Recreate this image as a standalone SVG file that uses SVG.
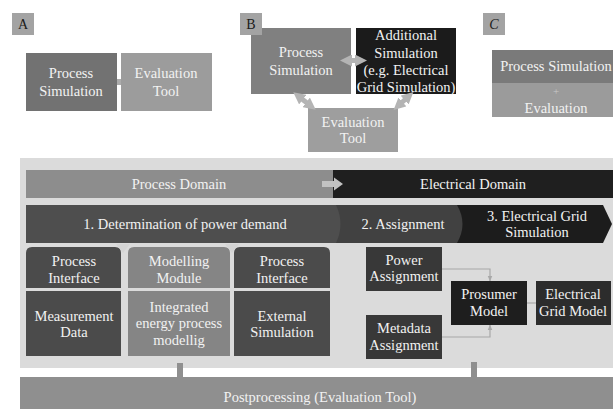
<svg xmlns="http://www.w3.org/2000/svg" width="613" height="409" viewBox="0 0 613 409">
<defs>
<style>
text{font-family:"Liberation Serif","Times New Roman",serif;font-size:14.5px;fill:#f2f2f2;text-anchor:middle}
.lbl{fill:#1a1a1a;font-size:14px}
.lblbox{fill:#a3a3a3}
.conn{stroke:#a8a8a8;stroke-width:1.2;fill:none}
.thick{stroke:#b4b4b4;stroke-width:5;fill:none}
</style>
<marker id="ah" viewBox="0 0 10 10" refX="5" refY="5" markerWidth="2.4" markerHeight="2.4" orient="auto-start-reverse">
<path d="M0,0 L10,5 L0,10 Z" fill="#b4b4b4"/>
</marker>
<marker id="sa" viewBox="0 0 10 10" refX="9" refY="5" markerWidth="5" markerHeight="5" orient="auto">
<path d="M0,1 L10,5 L0,9 Z" fill="#a8a8a8"/>
</marker>
</defs>
<rect width="613" height="409" fill="#ffffff"/>

<!-- Panel A -->
<g id="labelA"><rect class="lblbox" x="12" y="13" width="22" height="22"/><text class="lbl" x="23" y="29">A</text></g>
<g id="connectors-A"><rect x="110" y="79" width="13" height="6" fill="#ababab"/></g>
<g id="A-process"><rect x="26" y="53" width="91" height="58" fill="#727272"/><text x="71" y="78">Process</text><text x="71" y="96">Simulation</text></g>
<g id="A-eval"><rect x="121" y="53" width="91" height="58" fill="#9c9c9c"/><text x="166" y="78">Evaluation</text><text x="166" y="96">Tool</text></g>

<!-- Panel B -->
<g id="B-process"><rect x="251" y="28" width="100" height="66" fill="#808080"/><text x="301" y="57">Process</text><text x="301" y="75">Simulation</text></g>
<g id="labelB"><rect class="lblbox" x="240" y="13" width="22" height="22"/><text class="lbl" x="251" y="29">B</text></g>
<g id="B-additional"><rect x="356" y="28" width="100" height="66" fill="#1b1b1b"/><text x="406" y="40">Additional</text><text x="406" y="58">Simulation</text><text x="406" y="75">(e.g. Electrical</text><text x="406" y="92">Grid Simulation)</text></g>
<g id="B-eval"><rect x="308" y="108" width="90" height="44" fill="#9e9e9e"/><text x="353" y="127">Evaluation</text><text x="353" y="143">Tool</text></g>
<g id="connectors-B">
<line class="thick" x1="346" y1="60.5" x2="361" y2="60.5" marker-start="url(#ah)" marker-end="url(#ah)"/>
<line class="thick" x1="298" y1="96" x2="311" y2="106" marker-start="url(#ah)" marker-end="url(#ah)"/>
<line class="thick" x1="409" y1="96" x2="398" y2="106" marker-start="url(#ah)" marker-end="url(#ah)"/>
</g>

<!-- Panel C -->
<g id="labelC"><rect class="lblbox" x="483" y="13" width="22" height="22"/><text class="lbl" x="494" y="29" font-style="italic">C</text></g>
<g id="C-box"><rect x="492" y="50" width="121" height="33" fill="#7a7a7a"/><rect x="492" y="83" width="121" height="34" fill="#9b9b9b"/><text x="556" y="71">Process Simulation</text><text x="556" y="95" style="font-size:11px;fill:#c8c8c8">+</text><text x="556" y="113">Evaluation</text></g>

<!-- Main panel -->
<rect x="20" y="158" width="593" height="210" fill="#dbdbdb"/>
<g id="process-domain"><rect x="26" y="170" width="307" height="28" fill="#8d8d8d"/><text x="179" y="189">Process Domain</text></g>
<g id="electrical-domain"><rect x="333" y="170" width="280" height="28" fill="#1f1f1f"/><text x="473" y="189">Electrical Domain</text></g>
<g id="domain-arrow"><polygon points="322,181 334,181 334,177.5 343,184 334,190.5 334,187 322,187" fill="#c2c2c2"/></g>

<g id="step3"><path d="M455,205 L603,205 L612,224 L603,243 L455,243 Z" fill="#1c1c1c"/><text x="537" y="221">3. Electrical Grid</text><text x="537" y="237">Simulation</text></g>
<g id="step2"><path d="M330,205 L457,205 Q468,224 457,243 L330,243 Z" fill="#414141"/><text x="403" y="229">2. Assignment</text></g>
<g id="step1"><path d="M26,205 L336,205 Q345,224 336,243 L26,243 Z" fill="#4e4e4e"/><text x="185" y="229">1. Determination of power demand</text></g>

<g id="col1-top"><path d="M26,288 L26,253 Q26,247 32,247 L115,247 Q121,247 121,253 L121,288 Z" fill="#4b4b4b"/><text x="74" y="266">Process</text><text x="74" y="283">Interface</text></g>
<g id="col1-bottom"><rect x="26" y="291" width="95" height="65" fill="#4b4b4b"/><text x="74" y="321">Measurement</text><text x="74" y="337">Data</text></g>
<g id="col2-top"><path d="M128,288 L128,253 Q128,247 134,247 L224,247 Q230,247 230,253 L230,288 Z" fill="#858585"/><text x="179" y="266">Modelling</text><text x="179" y="283">Module</text></g>
<g id="col2-bottom"><rect x="128" y="291" width="102" height="65" fill="#858585"/><text x="179" y="312">Integrated</text><text x="179" y="328">energy process</text><text x="179" y="345">modellig</text></g>
<g id="col3-top"><path d="M234,288 L234,253 Q234,247 240,247 L324,247 Q330,247 330,253 L330,288 Z" fill="#4b4b4b"/><text x="282" y="266">Process</text><text x="282" y="283">Interface</text></g>
<g id="col3-bottom"><rect x="234" y="291" width="96" height="65" fill="#4b4b4b"/><text x="282" y="321">External</text><text x="282" y="337">Simulation</text></g>
<g id="notches"><polygon points="116,244 130,244 123,253" fill="#d4d4d4"/><polygon points="225,244 239,244 232,253" fill="#d4d4d4"/></g>

<g id="connectors">
<path class="conn" d="M442,269 L490,269 L490,281" marker-end="url(#sa)"/>
<path class="conn" d="M442,337 L490,337 L490,325" marker-end="url(#sa)"/>
<path class="conn" d="M527,303 L536,303"/>
<rect x="177" y="363" width="6" height="24" fill="#8f8f8f"/>
<rect x="471" y="362" width="6" height="25" fill="#8f8f8f"/>
</g>
<g id="power-assignment"><rect x="366" y="247" width="76" height="44" fill="#383838"/><text x="404" y="265">Power</text><text x="404" y="281">Assignment</text></g>
<g id="metadata-assignment"><rect x="366" y="315" width="76" height="44" fill="#383838"/><text x="404" y="333">Metadata</text><text x="404" y="350">Assignment</text></g>
<g id="prosumer-model"><rect x="451" y="281" width="76" height="44" fill="#1e1e1e"/><text x="489" y="299">Prosumer</text><text x="489" y="316">Model</text></g>
<g id="grid-model"><rect x="536" y="281" width="75" height="44" fill="#2c2c2c"/><text x="573" y="299">Electrical</text><text x="573" y="316">Grid Model</text></g>

<g id="postprocessing"><rect x="20" y="377" width="593" height="32" fill="#8f8f8f"/><text x="320" y="402">Postprocessing (Evaluation Tool)</text></g>
</svg>
